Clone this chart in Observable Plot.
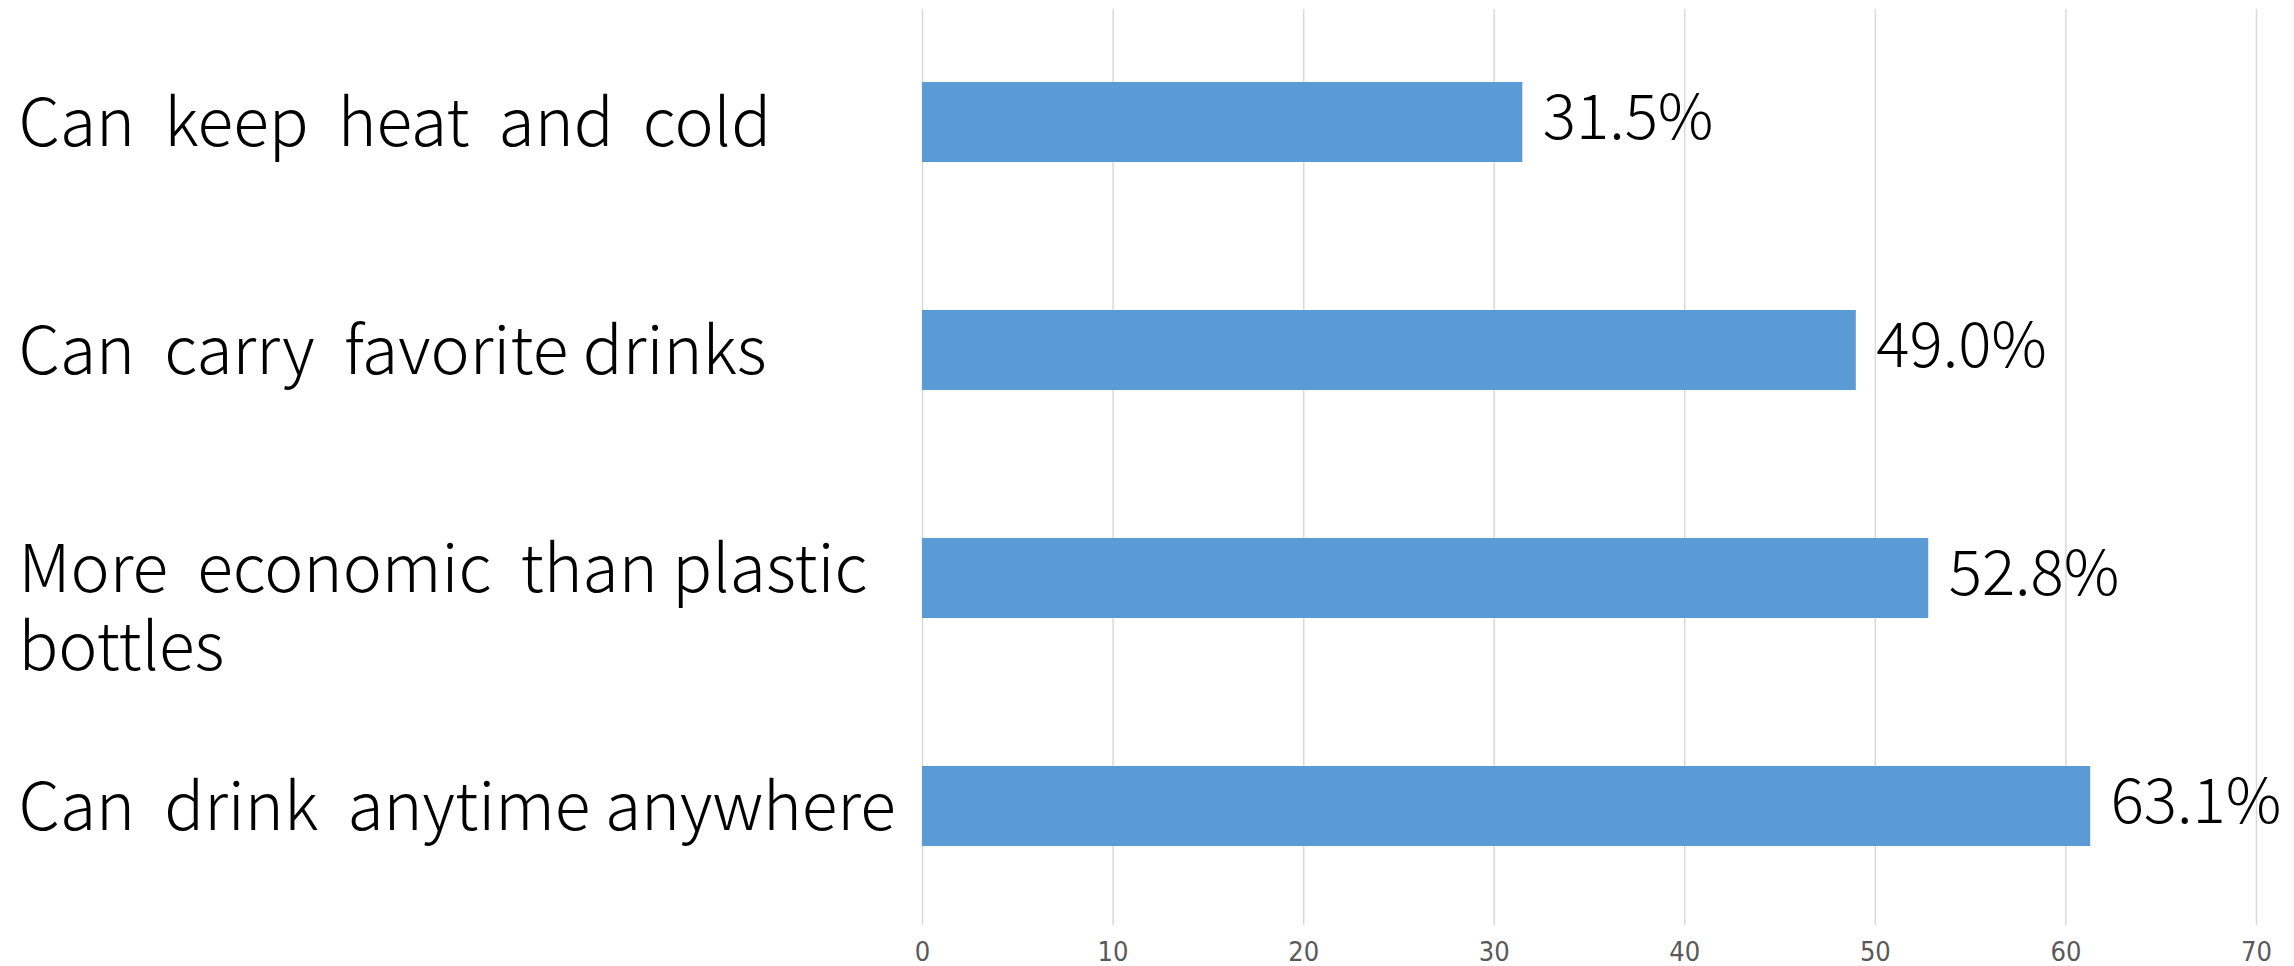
<!DOCTYPE html>
<html>
<head>
<meta charset="utf-8">
<script src="https://cdn.jsdelivr.net/npm/d3@7"></script>
<script src="https://cdn.jsdelivr.net/npm/@observablehq/plot@0.6"></script>
<style>
  html, body { margin: 0; padding: 0; background: #fff; }
  #chart svg text { white-space: pre; }
</style>
</head>
<body>
<div id="chart"></div>
<script>
// ---- data ----
const categories = [
  "Can  keep  heat  and  cold",
  "Can  carry  favorite drinks",
  "More  economic  than plastic\nbottles",
  "Can  drink  anytime anywhere"
];
const values = [31.5, 49.0, 52.8, 61.3];
const valueLabels = ["31.5%", "49.0%", "52.8%", "63.1%"];
const xTicks = [0, 10, 20, 30, 40, 50, 60, 70];

const data = categories.map((c, i) => ({cat: c, value: values[i], label: valueLabels[i]}));
const singleLine = data.filter(d => !d.cat.includes("\n"));
const multiLine = data.filter(d => d.cat.includes("\n"));

const W = 2294, H = 966;
const mLeft = 922, mRight = 38, mTop = 9, mBottom = 41;
const font = "'Noto Sans CJK JP', 'Noto Sans', sans-serif";
const catSize = 66;

const chart = Plot.plot({
  width: W,
  height: H,
  marginLeft: mLeft,
  marginRight: mRight,
  marginTop: mTop,
  marginBottom: mBottom,
  style: {background: "#fff", fontFamily: font},
  x: {domain: [0, 70], ticks: xTicks},
  y: {domain: categories, padding: 0.649, paddingOuter: 0.333, align: 0.48, axis: null},
  marks: [
    Plot.gridX(xTicks, {stroke: "#d9d9d9", strokeOpacity: 1, strokeWidth: 1.5}),
    Plot.barX(data, {x: "value", y: "cat", fill: "#5b9bd5"}),
    Plot.text(data, {
      x: "value", y: "cat", text: "label",
      textAnchor: "start", dx: 20, dy: -3,
      fontSize: 62, fontWeight: 300, fill: "#000", fontFamily: font
    }),
    Plot.text(singleLine, {
      y: "cat", text: "cat",
      frameAnchor: "left", textAnchor: "start", lineAnchor: "top",
      dx: 18 - mLeft, dy: -23,
      fontSize: catSize, fontWeight: 300, fill: "#000", fontFamily: font
    }),
    Plot.text(multiLine, {
      y: "cat", text: "cat",
      frameAnchor: "left", textAnchor: "start", lineAnchor: "top",
      dx: 18 - mLeft, dy: -42, lineHeight: 1.18,
      fontSize: catSize, fontWeight: 300, fill: "#000", fontFamily: font
    }),
    Plot.axisX(xTicks, {
      anchor: "bottom", tickSize: 0, tickPadding: 16,
      fontSize: 27, fill: "#595959",
      fontFamily: "'Liberation Sans Narrow', 'DejaVu Sans Condensed', 'Roboto', sans-serif",
      label: null
    })
  ]
});
document.getElementById("chart").appendChild(chart);
</script>
</body>
</html>
